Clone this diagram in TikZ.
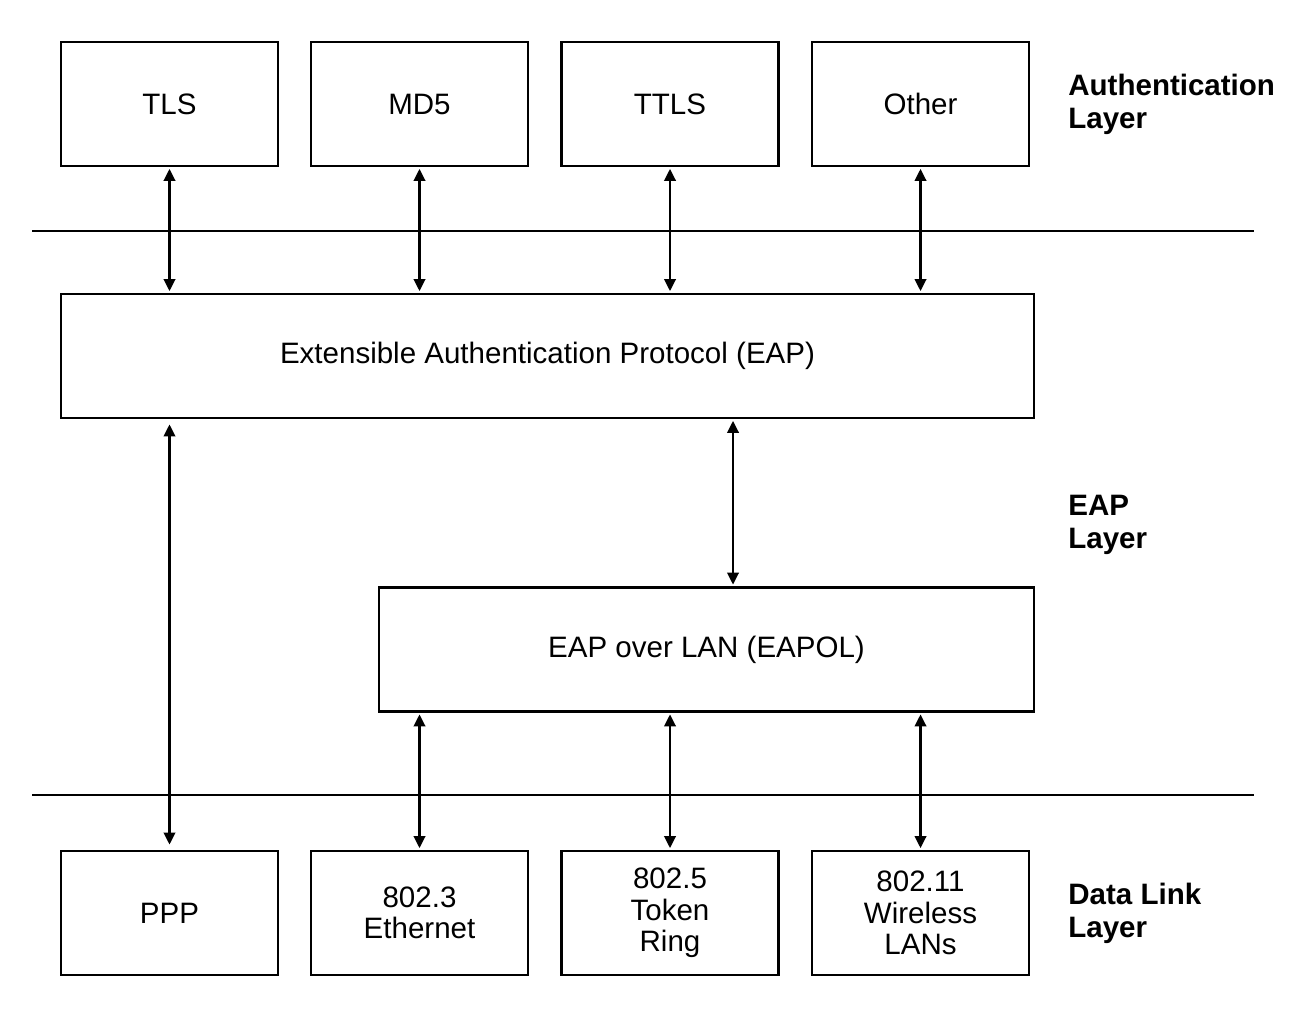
\documentclass[tikz,border=0pt]{standalone}
\usepackage{fontspec}
\setmainfont{Liberation Sans}
\usetikzlibrary{arrows.meta}

\begin{document}
\begin{tikzpicture}[
  box/.style={draw, line width=1.3pt, minimum width=4.34cm, minimum height=2.48cm, align=center, inner sep=0pt, font=\fontsize{16.8}{17.8}\selectfont},
  wide/.style={box, minimum width=#1},
  arr/.style={{Triangle[length=2.4mm,width=2.3mm]}-{Triangle[length=2.4mm,width=2.3mm]}, line width=1.3pt, shorten <=1pt, shorten >=1pt},
  sep/.style={line width=1.3pt},
  layer/.style={anchor=west, align=left, inner sep=0pt, font=\fontsize{16.8}{18.8}\selectfont\bfseries},
]
\useasboundingbox (0,0) rectangle (26.24,20.4);

% --- Authentication layer ---
\foreach \n/\x/\t in {tls/3.39/TLS, md5/8.39/MD5, ttls/13.4/TTLS, other/18.41/Other}
  \node[box] (\n) at (\x,18.32) {\t};
\node[layer] (authlbl) at (21.36,18.32) {Authentication\\Layer};

% --- EAP layer ---
\node[wide=19.46cm] (eap) at (10.95,13.28) {Extensible Authentication Protocol (EAP)};
\node[wide=13.1cm] (eapol) at (14.13,7.41) {EAP over LAN (EAPOL)};
\node[layer] (eaplbl) at (21.36,9.9) {EAP\\Layer};

% --- Data link layer ---
\node[box] (ppp) at (3.39,2.14) {PPP};
\node[box] (eth) at (8.39,2.14) {802.3\\Ethernet};
\node[box] (token) at (13.4,2.14) {802.5\\Token\\Ring};
\node[box] (wlan) at (18.41,2.14) {802.11\\Wireless\\LANs};
\node[layer] (dllbl) at (21.36,2.14) {Data Link\\Layer};

% Separators
\coordinate (s1a) at (0.64,15.78);
\coordinate (s1b) at (25.08,15.78);
\coordinate (s2a) at (0.64,4.5);
\coordinate (s2b) at (25.08,4.5);
\draw[sep] (s1a) -- (s1b);
\draw[sep] (s2a) -- (s2b);

% Arrows
\foreach \n in {tls, md5, ttls, other}
  \draw[arr] (\n.south) -- (\n.south |- eap.north);
\draw[arr, shorten <=3pt, shorten >=3pt] (ppp.north |- eap.south) -- (ppp.north);
\draw[arr] ([xshift=5.3mm]eapol.north |- eap.south) -- ([xshift=5.3mm]eapol.north);
\foreach \n in {eth, token, wlan}
  \draw[arr] (\n.north |- eapol.south) -- (\n.north);

\end{tikzpicture}
\end{document}
